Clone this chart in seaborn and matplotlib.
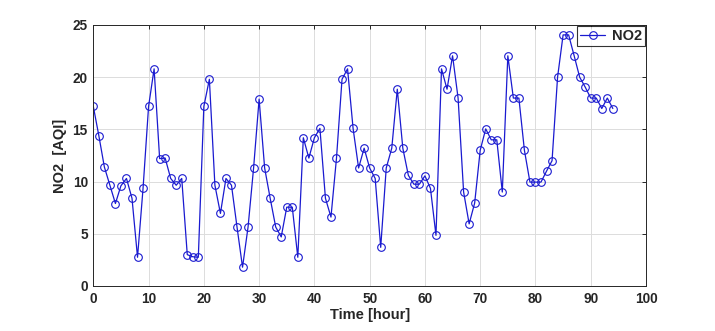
import matplotlib
matplotlib.use("Agg")
import matplotlib.pyplot as plt
import seaborn as sns
import pandas as pd
import numpy as np

hours = list(range(95))
no2 = [17.2, 14.4, 11.4, 9.65, 7.9, 9.6, 10.3, 8.4, 2.75, 9.35,
       17.2, 20.8, 12.2, 12.25, 10.3, 9.65, 10.3, 3.0, 2.8, 2.75,
       17.2, 19.8, 9.65, 6.95, 10.3, 9.65, 5.65, 1.8, 5.65, 11.3,
       17.9, 11.3, 8.4, 5.65, 4.7, 7.55, 7.55, 2.75, 14.2, 12.25,
       14.2, 15.1, 8.4, 6.6, 12.25, 19.8, 20.8, 15.1, 11.3, 13.2,
       11.3, 10.3, 3.7, 11.3, 13.2, 18.85, 13.2, 10.6, 9.75, 9.75,
       10.55, 9.35, 4.85, 20.8, 18.85, 22.05, 18.0, 9.0, 5.95, 7.95,
       13.0, 15.05, 14.0, 14.0, 9.0, 22.05, 18.0, 18.0, 13.0, 9.95,
       9.95, 9.95, 11.0, 12.0, 20.0, 24.05, 24.05, 22.05, 20.0, 19.05,
       18.0, 18.0, 17.0, 18.0, 17.0]
xticks = [0, 10, 20, 30, 40, 50, 60, 70, 80, 90, 100]
yticks = [0, 5, 10, 15, 20, 25]

df = pd.DataFrame({"Time": hours, "NO2": no2})

sns.set_style("white")
plt.rcParams['font.family'] = ['Liberation Sans', 'DejaVu Sans']

fig = plt.figure(figsize=(7.15, 3.31), dpi=100)
ax = fig.add_axes([0.1305, 0.136, 0.773, 0.7885])

line_color = "#1a1ad0"
sns.lineplot(data=df, x="Time", y="NO2", ax=ax, color=line_color, linewidth=0.9,
             marker="o", markersize=5.5, markerfacecolor="none",
             markeredgecolor=line_color, markeredgewidth=0.8, label="NO2")

ax.set_xlim(0, 100)
ax.set_ylim(0, 25)
ax.set_xticks(xticks)
ax.set_yticks(yticks)
ax.set_xticklabels([str(t) for t in xticks], fontsize=9.8, fontweight="bold", color="#262626")
ax.set_yticklabels([str(t) for t in yticks], fontsize=9.8, fontweight="bold", color="#262626")
ax.grid(True, color="#dcdcdc", linewidth=0.7)
ax.set_axisbelow(True)
ax.tick_params(direction="in", length=3, width=0.7, top=True, right=True, pad=4,
               labelcolor="#262626")
for s in ax.spines.values():
    s.set_color("#262626")
    s.set_linewidth(0.7)

ax.set_xlabel("Time [hour]", fontsize=10.5, fontweight="bold", color="#262626", labelpad=2)
ax.set_ylabel("NO2  [AQI]", fontsize=10.5, fontweight="bold", color="#262626", labelpad=4)

leg = ax.legend(loc="upper right", fontsize=10.5, frameon=True, fancybox=False,
                bbox_to_anchor=(0.9975, 0.995), borderaxespad=0.0,
                handlelength=1.7, borderpad=0.2, handletextpad=0.45)
leg.get_frame().set_edgecolor("black")
leg.get_frame().set_linewidth(0.8)
for t in leg.get_texts():
    t.set_fontweight("bold")

fig.savefig("out.png", dpi=100)
